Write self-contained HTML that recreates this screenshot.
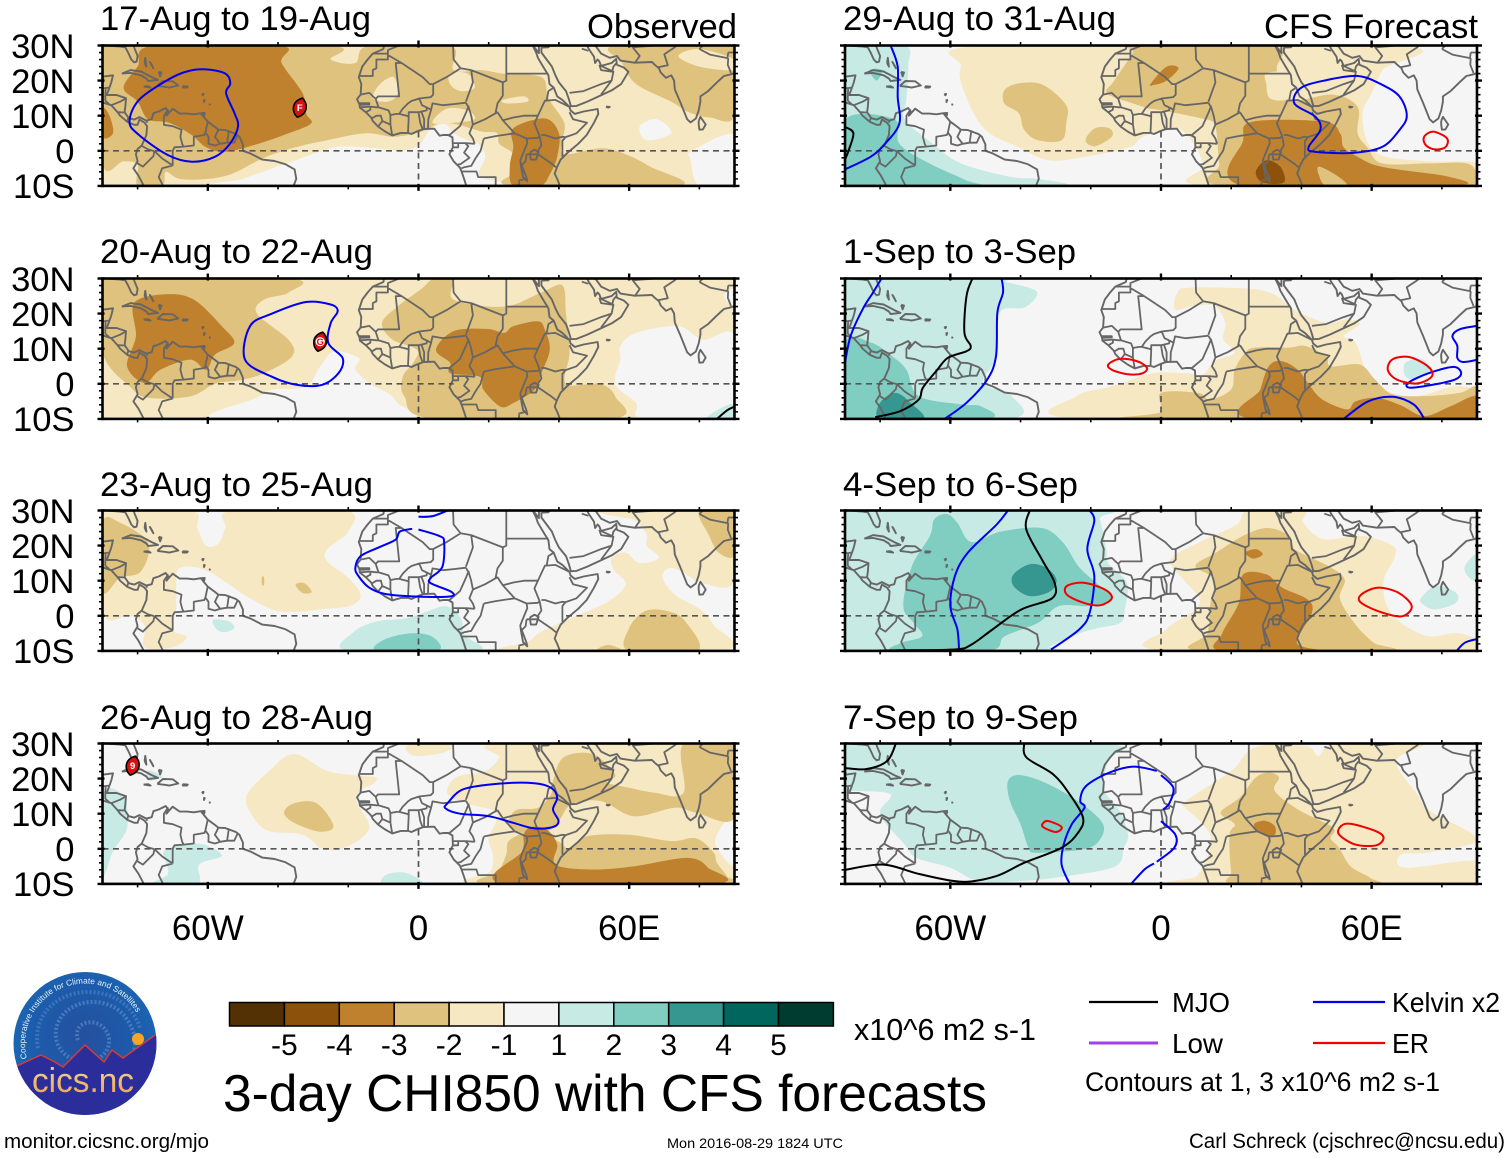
<!DOCTYPE html>
<html lang="en">
<head>
<meta charset="utf-8">
<title>3-day CHI850 with CFS forecasts</title>
<style>
html,body{margin:0;padding:0;background:#fff;}
svg{display:block;font-family:"Liberation Sans",sans-serif;}
</style>
</head>
<body>
<svg id="chart" xmlns="http://www.w3.org/2000/svg" width="1510" height="1158" viewBox="0 0 1510 1158">
  <defs>
    <radialGradient id="logoSky" cx="50%" cy="45%" r="60%">
      <stop offset="0" stop-color="#264f9f"/><stop offset="0.6" stop-color="#1c5cab"/><stop offset="1" stop-color="#1a6cb8"/>
    </radialGradient>
    <linearGradient id="logoText" x1="0" y1="0" x2="0" y2="1">
      <stop offset="0" stop-color="#f7d9a0"/><stop offset="1" stop-color="#eb9f45"/>
    </linearGradient>
    <clipPath id="logoClip"><ellipse cx="85" cy="1043.5" rx="71.5" ry="71.5"/></clipPath>
    <path id="logoArc" d="M27 1058.5 A60 60 0 1 1 145 1040"/>
  </defs>
  <rect x="0" y="0" width="1510" height="1158" fill="#ffffff"/>
  <g id="panels"></g>

  <g font-size="34.4" fill="#000">
    <text x="100" y="30" textLength="271" lengthAdjust="spacingAndGlyphs">17-Aug to 19-Aug</text>
    <text x="100" y="263" textLength="273" lengthAdjust="spacingAndGlyphs">20-Aug to 22-Aug</text>
    <text x="100" y="496" textLength="273" lengthAdjust="spacingAndGlyphs">23-Aug to 25-Aug</text>
    <text x="100" y="729" textLength="273" lengthAdjust="spacingAndGlyphs">26-Aug to 28-Aug</text>
    <text x="843" y="30" textLength="273" lengthAdjust="spacingAndGlyphs">29-Aug to 31-Aug</text>
    <text x="843" y="263" textLength="233" lengthAdjust="spacingAndGlyphs">1-Sep to 3-Sep</text>
    <text x="843" y="496" textLength="235" lengthAdjust="spacingAndGlyphs">4-Sep to 6-Sep</text>
    <text x="843" y="729" textLength="235" lengthAdjust="spacingAndGlyphs">7-Sep to 9-Sep</text>
    <text x="587" y="38" textLength="150" lengthAdjust="spacingAndGlyphs">Observed</text>
    <text x="1264" y="38" textLength="214" lengthAdjust="spacingAndGlyphs">CFS Forecast</text>
  </g>

  <g id="colorbar"></g>
  <text x="854" y="1040" font-size="31" textLength="182" lengthAdjust="spacingAndGlyphs">x10^6 m2 s-1</text>
  <text x="223" y="1111" font-size="51.5" textLength="764" lengthAdjust="spacingAndGlyphs">3-day CHI850 with CFS forecasts</text>

  <g font-size="28">
    <line x1="1089" y1="1002" x2="1158" y2="1002" stroke="#000" stroke-width="2.2"/>
    <text x="1172" y="1012" textLength="58" lengthAdjust="spacingAndGlyphs">MJO</text>
    <line x1="1313" y1="1002" x2="1385" y2="1002" stroke="#0000f0" stroke-width="2.2"/>
    <text x="1392" y="1012" textLength="108" lengthAdjust="spacingAndGlyphs">Kelvin x2</text>
    <line x1="1089" y1="1043" x2="1158" y2="1043" stroke="#a040f0" stroke-width="3"/>
    <text x="1172" y="1053" textLength="51" lengthAdjust="spacingAndGlyphs">Low</text>
    <line x1="1313" y1="1043" x2="1385" y2="1043" stroke="#f00000" stroke-width="2.2"/>
    <text x="1392" y="1053" textLength="37" lengthAdjust="spacingAndGlyphs">ER</text>
    <text x="1085" y="1091" font-size="27" textLength="355" lengthAdjust="spacingAndGlyphs">Contours at 1, 3 x10^6 m2 s-1</text>
  </g>

  <g>
    <ellipse cx="85" cy="1043.5" rx="71.5" ry="71.5" fill="url(#logoSky)"/>
    <g clip-path="url(#logoClip)">
      <path d="M78 1040 C72 1024 92 1016 104 1028 C116 1042 106 1062 84 1062 C58 1060 48 1034 62 1016 C78 996 112 998 126 1018 C136 1032 136 1044 134 1052" fill="none" stroke="#7fb2e0" stroke-width="4" stroke-dasharray="2 2" opacity="0.4"/>
      <path d="M38 1048 C32 1014 58 992 88 992 C116 992 134 1008 140 1028" fill="none" stroke="#7fb2e0" stroke-width="4" stroke-dasharray="2 2" opacity="0.3"/>
      <circle cx="138" cy="1039" r="6" fill="#f5a623"/>
      <path d="M13 1068 L19 1065 L41 1055 L55 1062 L63 1067 L85 1045 L104 1062 L112 1050 L123 1058 L158 1033 L158 1118 L13 1118 Z" fill="#2b2e9a" stroke="#e03a30" stroke-width="1.4"/>
    </g>
    <text font-size="8.3" fill="#e8f0fa"><textPath href="#logoArc">Cooperative Institute for Climate and Satellites</textPath></text>
    <text x="32" y="1092" font-size="34" fill="url(#logoText)" textLength="102" lengthAdjust="spacingAndGlyphs">cics.nc</text>
  </g>

  <text x="4" y="1148" font-size="20.7" textLength="205" lengthAdjust="spacingAndGlyphs">monitor.cicsnc.org/mjo</text>
  <text x="667" y="1148" font-size="14" textLength="176" lengthAdjust="spacingAndGlyphs">Mon 2016-08-29 1824 UTC</text>
  <text x="1189" y="1148" font-size="21" textLength="316" lengthAdjust="spacingAndGlyphs">Carl Schreck (cjschrec@ncsu.edu)</text>
</svg>

<script>
// ---- axis tick data ----
const lonMajor = [-60, 0, 60];
const lonMajorLabels = ['60W', '0', '60E'];
const lonMinor = [-80, -40, -20, 20, 40, 80];
const latMajor = [30, 20, 10, 0, -10];
const latLabels = ['30N', '20N', '10N', '0', '10S'];
const latMinor = [28, 26, 24, 22, 18, 16, 14, 12, 8, 6, 4, 2, -2, -4, -6, -8];

// ---- colour bar data ----
const cbarLevels = [-5, -4, -3, -2, -1, 0, 1, 2, 3, 4, 5];
const cbarLabels = ['-5', '-4', '-3', '-2', '-1', '1', '2', '3', '4', '5'];

// ---- whole-domain outline ----
const FULL = [-90, 30, 90, 30, 90, -10, -90, -10];

// ---- base map, lon/lat pairs ----
const mapCoast = [
  [-91,30,-89,30,-85,29.7,-83.5,29.5,-82.7,28,-81.8,26,-81,25.2,-80.3,25.4,-80,27,-81,29.5,-81.4,31],
  [-91,18.7,-90.5,20,-90,21.1,-87,21.5,-87.5,19.5,-88.2,17.5,-88.8,15.9,-86,15.9,-83.3,15,-83.5,12.5,-83.7,11,-82.5,9.3,-81,8.9,-79.5,9.6,-77.5,8.6,-76,9,-75.5,10.7,-74,11.2,-72,12.2,-71.3,11.2,-71.8,10,-71,10.9,-70,12,-68,10.6,-66,10.6,-64,10.4,-62,10.7,-61,9.5,-60,8.3,-58,6.8,-57,6,-55,5.9,-52,4.8,-51,4,-50,1.8,-50,0,-48,-0.7,-44.5,-2.5,-41,-2.9,-38,-3.8,-35.3,-5.3,-34.8,-8,-35.8,-10.5],
  [-92,14.5,-90,13.8,-87.5,13,-85.7,11,-85,10,-83,8.3,-81,7.4,-80,7.4,-79.5,8.9,-78,8,-77.3,7,-77.5,4.5,-78.8,1.5,-80,0.5,-80.5,-1,-80,-3,-81.2,-5,-79.8,-7,-78.5,-9.5,-78,-10.5],
  [-84.5,22,-82,23,-79,22.6,-76,21,-74.2,20.2,-77,19.9,-77.5,20.6,-79,21.5,-82,22.2,-84.5,22],
  [-74.4,18.5,-72.8,19.9,-70,19.8,-68.4,18.6,-71,18,-72,18.2,-74.4,18.5],
  [-78.3,18.3,-76.3,18,-77,18.4,-78.3,18.3],
  [-67.2,18.4,-65.7,18.3,-66,18,-67.1,18,-67.2,18.4],
  [-78,25,-77.5,24,-77.8,26.5,-78,25],[-76,24.5,-75.5,23.5,-76.5,25.3,-76,24.5],[-74,22.5,-73.2,22.3,-73.6,21.2,-74,22.5],
  [-61.7,16.2,-61.2,16.2,-61.4,15.8,-61.7,16.2],[-61.1,14.7,-60.9,14.4,-61.1,13.9,-61.1,14.7],[-59.7,13.2,-59.4,13.2,-59.5,13],
  [-61.9,10.7,-60.9,10.8,-61,10.1,-61.9,10.7],
  // Africa
  [-9.2,32,-9.8,30,-10,29,-13,27.7,-14.5,26,-16,24,-17,21,-16.3,19,-16.5,16,-17.5,14.7,-16.8,13.2,-16.7,12.3,-15,11,-13.5,9.5,-13,8.5,-11.5,6.9,-9.5,5.5,-7.5,4.4,-5,5.1,-3,5.1,-2,4.8,0,5.7,1.5,6.2,4.5,6.3,6,4.3,7,4.5,8.5,4.5,9.7,3.8,9.8,1,9.3,0,8.8,-1,10,-3,11.8,-4.8,12.3,-6,13,-8,13.8,-10.5],
  [32.5,31,32.5,30,33.5,28,34,26.5,35.5,24,37,21.5,37.3,19,38.5,18,39.5,15.5,41,14.5,43,12.5,43.3,11.5,44.5,10.5,47,11.2,51,11.9,51.2,10.5,50,8,47.9,4.5,45.5,2,42.5,-0.5,40.5,-2.5,39.5,-4.5,38.8,-6.5,39.5,-8,40.5,-10.5],
  // Arabia
  [34.3,31,34.3,27.8,33,29.5],[35,29.5,35,28,36.5,26,38,24,39,21.5,40,19.5,42,17,42.8,14.8,43.4,12.7,45,12.8,48,14,52,15.8,55,17.2,57.7,19,59.8,22.5,58.5,23.7,56.5,24.5,56.3,26.2,55,25,52,24.2,51.5,25.5,51,26,50.3,25,50,26.8,48.5,29,48,30,48.8,30.3,50.5,29.8,52,27.7,54.5,26.5,56.5,27,57.5,25.7,61.5,25.1,66.5,25.3,67.3,24.5,68.5,23.5,69,22.3,70.5,20.8,72,21.5,72.8,20,73,17.5,74.5,14,75.5,11.5,76.5,9,77.5,8.1,79,9.2,79.8,11.5,80.3,14,80.3,15.5,82.5,17,85,19.5,87,21.3,89,21.8,91,22.5],
  [79.8,8.5,80.3,9.7,81.8,7.5,81,6.1,80,6,79.8,7.5,79.8,8.5],
  [53.4,12.6,54.5,12.5,54,12.3,53.4,12.6],
  [31.7,-0.5,33,0.3,34.2,-0.3,33.5,-2.5,32,-2.5,31.7,-0.5],
  [29.2,-3.5,30.7,-7.5,31,-8.7,29.8,-7.5,29.3,-5,29.2,-3.5]
];
const mapBorders = [
  [-90,17.8,-89.1,17.9,-89.2,15.9],[-88.2,18,-89.1,17.9],[-89.2,15.9,-89.2,14.3,-88,13.2],[-87.5,13,-85,14,-83.2,15],[-85.7,11,-83.7,10.9],[-83,8.3,-82.6,9.6],[-77.3,8,-77.5,8.6],
  [-71.3,11.8,-72.5,10,-72.5,7.4,-70,7,-67.5,6,-67.8,4,-67.3,2,-66.9,1.2],[-78.8,1.4,-77,0.4,-75.2,-0.1],[-75.2,-0.1,-73,-2.2,-70,-4.2],[-70,-4.2,-70,0,-69.5,1,-66.9,1.2],[-80.3,-3.4,-78.5,-4.5,-75.5,-1.5,-75.2,-0.1],[-70,-4.2,-73,-5,-74,-7.5,-73,-9.5,-72.5,-10.5],[-66.9,1.2,-64,1.5,-64,4,-61,4.5,-60.7,5.2],[-60.7,5.2,-60,8.4],[-60.7,5.2,-59.8,4,-59.8,2,-58,1.5,-56.5,2],[-57,6,-58,4,-56.5,2],[-54,5.8,-54.5,2.3],[-56.5,2,-54.5,2.3],[-54.5,2.3,-52.5,2.3,-51.6,4.2],
  [-13,27.7,-8.7,27.7],[-8.7,27.7,-8.7,26,-12,26,-12,23.5,-13,23,-13,21.3,-17,21.3],[-8.7,27.7,-8.7,28.7,-5.5,30,-3,31],[-8.7,27.3,-4.8,25,-6.5,25,-5.5,15.5,-11.5,15.5,-12.2,14.8],[-16.5,16,-14,16.5,-12.2,14.8],[-4.8,25,1.2,21,3.2,19,4.2,19,4.2,16,3.5,15.3,0.2,14.9,-2,14.2,-3,13.5,-4.5,12,-5.5,10.5],[-12.2,14.8,-11.4,12.4,-8.5,11.5,-8,10.2,-6.2,10.5,-5.5,10.5],[-16.7,12.4,-13.7,12.6,-12,12.4,-11.4,12.4],[-13.7,12.6,-13.7,11.7,-15,11],[-16.8,13.6,-14,13.6,-14,13.2,-16.8,13.1],[-13.3,9.2,-12,10,-10.7,10,-10.3,8.5],[-11.5,6.9,-10.3,8.5],[-10.3,8.5,-8.5,7.7,-8,7.5,-7.5,4.4],[-8,7.5,-8,10.2],[-5.5,10.5,-3,9.9,-2.8,9.5,-3,5.1],[-2.8,9.5,-2.8,11,0,11],[0,11,0.5,8,1.2,6.1],[0.9,11,1.6,9,1.6,6.2],[0,11,2.3,11.5,2.4,12.3,1,13,0.2,14.9],[2.4,12.3,3.6,11.7,2.8,9,2.7,6.3],[3.6,11.7,4,13.5,7,13,10,13.3,13.5,13.7],[13.5,13.7,14.2,12.5,13.5,10.8,11.8,7,8.8,4.5],
  [4.2,19,8,21,12,23.5],[12,23.5,15,23],[15,23,15.5,19.5,13.5,14],[15,23,24,19.5],[14.2,12.8,15,10,15.5,7.5],[15.5,7.5,19,9,22.5,11],[24,19.5,24,15.7,22.5,13.5,22,11,22.5,11],[22.5,11,24,8.7,27.4,5],[15.5,7.5,14.5,5,15.5,3.5,16,2],[16,2,13.5,2.2,9.8,2.2],[9.8,1,11.3,1,11.3,2.2],[13.3,2.2,14.2,1.3,13,-0.5,14.5,-2,12,-3.8,11.2,-3.9],[12.2,-5,13,-4.7,15,-4.3,16.2,-2.2,17.7,0,18.6,3.5],[18.6,3.5,22,4.2,27.4,5],[12.3,-5.9,16.5,-5.9,17,-7.5,22,-7.5,22,-10.5],[27.4,5,30.8,3.5,31,2.2,29.6,-1.2,29,-2.7,29.2,-4.5],[34.5,4.2,35,1.5,34,0,33.9,-1],[30.8,3.5,34,3.7,34.5,4.2],[34,-1,37.7,-3.5,39.2,-4.7],[30.8,-1,33.9,-1],[30.8,-1,30.5,-3,29.5,-4],[35,4.5,36,4.5,39,3.5,41,4,41.9,3.9],[41.9,3.9,41,2.8,41,-1.7],[41.9,3.9,45,5,48,8,44,9,43,11],[43,12.5,39,14.5,36.5,14.3,37,17,38.5,18],[34.5,4.2,33,7.8,34,10,36,14.3,36.5,14.3],[24,8.7,27,9.5,30,10,33,10,34,10],[25,22,37,22],[25,31,25,20,24,19.5],[9.8,31,10,26,12,23.5],[28.5,-8.5,30.5,-8],[28.7,-8.5,28.5,-10.5],
  [43,16.5,47,17,52,19,55,20,52,16],[55,20,55.5,22.5,52,23,51.5,24.5],[35,29.4,37,29.5,38,30.5,39,32],[46.5,29.1,48.4,28.5],[51.5,24.4,55.2,22.7,55.5,24,56.3,24.9],[61.6,25,63,27,61,29.5,60.5,31],[68.2,23.8,71,24.4,70,27.5,73,29.5,74.5,31],[61,29.5,66.3,29.9,70,30.5],[80,29,83,27.4,88,26.4,88.2,28],[88.2,26.4,88.1,24.5,89,22.2],[90,26,89.8,25.3,92,25],[78,31,81,30,80,29],[88.2,28,91,28]
];

// ---- panel 1: 17-Aug to 19-Aug ----
const shades1 = [
  [-1, FULL],
  [0, [-55,-10,-50,-8,-43,-5.5,-35,-2.7,-24,1,-16,1,-5,0.2,0,1.5,3.4,6,7.5,7.6,10,5,14,3,17,2,19,-1.7,17,-6.5,19,-8,22,-10]],
  [0, [78,0,90,4.5,90,-10,80,-10,77.5,-2.7]],
  [0, [63,7,68,9,72,5,65,3]],
  [-2, [-90,30,-26,30,-25,26,-18,25,-14,30,9,30,10,23,18,23,24,22,35,21,37,15,41.5,8,41,3,41.5,-1,52,0.7,59,-1,66,-4.5,74,-10,27,-10,27,-6,27,-1,23,2,22.4,5,18,5.5,11,7.5,6,7.8,1,5.5,-7,4,-15,5,-26,3,-35,1,-44,-2,-53,-6.5,-60,-8,-68,-8,-72,-6,-73,-10,-80,-10,-80,-4,-84,-3,-90,-3.5]],
  [-2, [56,30,58,25,62,19,72,14,77,11,83,9.5,90,10,90,30]],
  [-1, [74,27,80,29,90,26,90,23,80,24]],
  [-1, [-13,15,-11,19,-7,21,-6,16,-9,14]],
  [-1, [4,8,8,12,14,11.5,16,9,10,8]],
  [-1, [24,14.5,30,15.5,31,14,25,13.5]],
  [-1, [9,22,14,22,16,18,12,17,9,19]],
  [-3, [-75.5,30,-39.5,30,-39,25,-33,16.4,-32,10.7,-30.6,7.8,-37,5,-45.6,2,-55,-0.3,-60.5,1,-64.6,4.5,-71,8,-77,9,-80,14,-84,18,-80,24]],
  [-3, [-90,12,-88,10,-87,5,-90,4]],
  [-3, [27,6.4,36,9.2,40,5,39.5,-1.7,37.5,-6.5,34.7,-10,27,-10,26,-4.5,27,1]]
];
const contours1 = [
  ['kelvin', 1, [-60.5,23.2,-55,22,-53.6,19.2,-54.8,16.4,-52.4,10.7,-51.4,6.9,-53.7,2,-58,-1.7,-64.6,-3.1,-71.4,-1.2,-79.6,4.5,-82.3,8.3,-79.6,14.5,-71.4,20.2,-66,22.6]]
];
const storms1 = [['F', -33.8, 12.3]];

// ---- panel 2: 20-Aug to 22-Aug ----
const shades2 = [
  [-1, FULL],
  [0, [-58,-10,-46,-4,-41.7,-1.7,-32,-0.8,-28,5,-24,9.2,-17,7.3,-18,4,-13.3,-0.3,-8.6,-2.7,-6,-5.5,-4,-10]],
  [0, [57.5,10.7,62,14.5,74,16.4,81,12.6,90,13.5,90,-10,64,-10,62,-5.5,56,0,57.5,7]],
  [0, [87,25,90,27,90,22]],
  [0, [6.5,24,8,25.5,9,23,7,22.5]],
  [1, [82,-10,87,-6.5,90,-6,90,-10]],
  [-2, [-90,30,-37,30,-37,26,-44,24,-46,20,-37,12.5,-36,7.8,-44,3,-51,1,-58,0,-65,-3.6,-77,-4,-82,-1,-90,9]],
  [-3, [-81,23,-72,25.5,-64,24,-56,16.4,-52.5,11.6,-58,8.3,-60.5,4,-65,6.9,-73.5,4,-78,0.2,-83,5,-80.5,13.5]],
  [-2, [-10.4,17.3,-6,22,0.8,27,4.4,30,10,30,10,24,24.4,22,35,26,41,28,42,20,43,8.8,42,0,51.6,0,56,-3.6,55,-10,4.4,-10,-4,-3.6,-4.5,2,-1.5,6,-0.4,9.7,-7.4,12.6]],
  [-3, [5,9.7,10,15,19.7,15.6,24.4,14.5,27,16.4,34,17.8,36,15.4,37.4,9.7,35,3,33,-1.7,27,-5.5,23.3,-6.5,18.5,-1.7,17.4,2,9,3,9,6]]
];
const contours2 = [
  ['kelvin', 1, [-32,23.3,-25,22.6,-23,20.7,-25,17.3,-25.7,11.6,-21.6,7.3,-22.8,3,-27.5,-0.3,-34.6,-0.3,-41.7,2,-49.4,6.9,-48,16.4,-41.7,20]],
  ['mjo', 0, [85,-10,88,-7.5,90,-6.5]]
];
const storms2 = [['G', -28, 12]];

// ---- panel 3: 23-Aug to 25-Aug ----
const shades3 = [
  [-1, [-90,30,-65,30,-63,25,-60.5,20,-57,20.5,-55,25,-53,30,-21,30,-20,24,-26,19,-26,15.5,-20,10.8,-16.5,6,-19,3,-26,2,-39,1.2,-48,5,-60,12.7,-68,13.6,-69,8,-69,2,-70,-4,-66,-6,-70,-9,-78,-9,-78,-3,-82,0,-90,1]],
  [-1, [53,30,90,30,90,9.8,81,9.3,75,12.6,71.4,13.6,69.5,11,73,6,80,2,84,-2.6,86,-10,26,-10,31.5,-7.3,35,-4.5,45,0,54,4,59,9,55.7,13,55,16.5,59,18,63,15,68.5,16.5,65,20,65,23,62,27,58,28,53,29]],
  [-2, [60,-10,60,-3.5,64.7,1.4,71.4,1.2,76,-1.6,79.4,-10]],
  [-2, [80,30,82.7,23,85.5,18,90,17.4,90,30]],
  [-2, [50.7,-10,54,-8.3,58,-10]],
  [-2, [-35,8.9,-32.5,9.3,-30.4,6.8,-33,6.5]],
  [-2, [-44.6,11,-44,11,-44,8.8,-44.6,8.8]],
  [-2, [-90,26.5,-85,26.5,-77,20.8,-79,12.7,-85,10.8,-90,7]],
  [1, [-20,-10,-18.3,-4.5,-11.8,-1.6,-3.5,-0.7,2.4,1.2,8,2.7,12,-0.7,13,-5.4,16.5,-10]],
  [2, [-11.8,-10,-10,-6.9,-2.4,-5,4,-6,5.3,-10]],
  [1, [-58.4,-1.1,-54,-1.6,-52.5,-3.5,-55.4,-4.7,-57.8,-3.5]]
];
const contours3 = [
  ['kelvin', 0, [0,28.2,4,28.4,8.3,30]],
  ['kelvin', 0, [-1.8,24.8,-5.3,24,-6.5,21.7,-10.6,19.8,-16.5,17,-18,13.6,-17,11.2,-14,8,-9.4,6.2,-1,5.5,8.8,5.5,9.4,6.8,3.5,9.3,3.5,10.8,6.8,14,7.3,21,6,22.7,0,24.6]]
];
const storms3 = [];

// ---- panel 4: 26-Aug to 28-Aug ----
const shades4 = [
  [-1, [-49,15,-42.5,22.2,-35.4,27,-26,22.2,-16.5,20.8,-12,20.3,-13,18.4,-16,17,-17.7,13.6,-14,6,-20,0.8,-27,-0.2,-33,4,-42.5,5,-47,8.9]],
  [-2, [-38.3,10.3,-35.4,13,-29,13,-24.2,6.5,-28.3,4.9,-35.4,7.4]],
  [1, [-90,15.5,-84,15,-83,6,-87,-0.7,-89,-6.4,-90,-6.4]],
  [1, [-72.5,-0.7,-67.5,1.2,-61,1.2,-56,-2,-62.5,-4.5,-63,-10,-75.5,-10,-71.4,-7.3,-72,-3.5]],
  [1, [-77,22.3,-73,20.5,-77,19.5]],
  [1, [-10,-10,-9,-7.3,-3.5,-6.9,1.2,-10]],
  [-1, [-3,29.5,9.4,29.5,7,27.4,-1.2,26.5]],
  [-1, [23.6,30,23,26,19,22.2,10.6,20.3,8.3,15.5,14.7,12.7,22.4,10,20,3,21.2,-1.6,20.6,-6.4,17,-10,90,-10,90,30]],
  [0, [85,4,88.4,8.9,90,8.9,90,-4.5,85,0.3]],
  [-2, [26,8.9,28.3,11.2,34,11.7,37.7,15.5,38.3,19.3,41.3,26,49.5,27,56,21.2,53.7,18.9,60,17.4,67.2,16,75.5,16,75.5,30,90,30,90,8.9,79,10.3,73,11.7,61.3,9.3,52,13.6,43.6,12.7,40,8,36,4.5,30,4.5,26,6]],
  [-2, [21,-10,23,-6.4,25,-1.6,26,2.5,33,5,40,2,43,0,48,3.6,60,4,72,2.2,79,3,84,-1,85,-4,88,-8,88.5,-10]],
  [-3, [30,4,32,6.2,36.5,5.5,39.5,1.2,39,-4.5,49.5,-5.9,61.3,-5,76.6,-2.6,82.5,-5.4,84,-10,24.2,-10,29.5,-0.7]]
];
const contours4 = [
  ['kelvin', 1, [8.3,13,12.9,17,23.6,18.6,33,18.7,37.7,17.4,39.5,14.6,38.3,11.2,39.9,7.9,38.3,6.2,33,5.8,27,7.4,20,9.3,11.8,10,7.7,11.5]]
];
const storms4 = [['9', -81.4, 23.7]];

// ---- panel 5: 29-Aug to 31-Aug ----
const shades5 = [
  [1, [-90,30,-73,30,-72,24,-72.5,14.5,-73,9,-65,2,-57,-3.6,-43,-7.4,-35,-8,-30,-10,-90,-10]],
  [2, [-90,8.8,-76,9,-74.5,2,-66,-3.6,-55.5,-8.4,-53.5,-10,-90,-10]],
  [2, [-83,23,-79.5,23,-81,20]],
  [-1, [-57,24,-49,30,67,30,63,23,60,16.4,57.4,10.7,59,2,64,-1.7,76.5,-3,90,-3.6,90,-10,13,-10,12,-4.5,10,1,4.4,6.4,-5,4,-9,1,-21.5,-1.7,-32,-2.7,-40.5,1,-50,6,-55.5,15.4]],
  [-2, [-44.6,17.3,-40.5,19.2,-33.7,18.8,-27,13,-27,8,-28.3,3,-35,3,-39,6,-40.5,10.7,-44.6,13.4]],
  [-2, [-21.5,3,-18.8,6.4,-14.7,6.4,-14,4,-18.8,1.3]],
  [-2, [-8,30,31.5,30,33,23,36,14.5,49,16,56,12.5,56,5,59,0.7,63,-3.6,76.5,-3.6,87,-3.6,90,-6.5,90,-10,18.6,-10,16.6,-3.6,15,7.8,8,9,0,11,-8,13.5,-15.4,16.4,-13.3,20,-8,28]],
  [-1, [30,22,36,22,36,15,31,15,30,19]],
  [-1, [-4,12,8,10,15,8,3,8,-2,9]],
  [-3, [26,8.3,46.5,8.3,51,5,52,1,56,-1.7,63,-4.6,82,-7.4,82.6,-10,23.4,-10,23.4,3]],
  [-2, [45,-4.5,50,-7,53,-10,47,-10,45,-7]],
  [-4, [27,-6,30,-2.7,34,-4.6,35,-9,29,-9]],
  [-3, [-3,19,1.6,24,5,23.5,1.6,20,-1.8,18.8]]
];
const contours5 = [
  ['kelvin', 0, [-77,30,-75,24,-75,15.4,-74.5,7.8,-78.6,2,-82.7,-1.7,-90,-5.3]],
  ['kelvin', 1, [56,21.3,63,18.8,68,15.4,70,10,68,6,63,1.1,54.7,-0.6,44,-0.3,42,1,45.4,6,44,9.7,38,13.5,39.7,17.8,46.5,20]],
  ['mjo', 0, [-90,6.8,-87.6,5,-89,0,-90,-2.5]],
  ['er', 1, [78,5.4,81.5,3.5,81,1,78,0.4,75.5,1.5,74.8,3.5,76,5]]
];
const storms5 = [];

// ---- panel 6: 1-Sep to 3-Sep ----
const shades6 = [
  [1, [-90,30,-46.6,30,-44,29,-36.5,27,-35.4,25,-39,21.7,-46,20.3,-46.6,7.9,-50.7,0.3,-42.5,-3.5,-43,-10,-90,-10]],
  [2, [-90,11.7,-82.5,11.7,-76.6,7.9,-72.5,4,-69,-3.5,-56.6,-5.9,-51.3,-6.4,-50,-10,-90,-10]],
  [3, [-80,-5.4,-75.5,-2.6,-70.8,-5.9,-67.8,-10,-80,-10]],
  [1, [69.6,6,74.3,7,76.6,4,73,1.2,69.6,2.2]],
  [-1, [4.7,26,8.3,27.4,26,27,33,25,37.7,21.2,47,17.4,53,18.4,56.6,17,52,13.6,55.4,11.7,57.8,5,59,0.3,62.5,-2,73,-3.5,83.7,-0.7,90,-2.5,90,-10,-23,-10,-24,-3.5,-14,-0.7,-2.4,3,7,3,12,2.7,15.3,6.5,21,8.9,17.7,12.7,18.3,17.4,15.3,22.2,9.4,22.2,4,21.2]],
  [-2, [0,-2.6,10.6,-2.6,14,-4.5,20,-1.6,21,4,24,8.9,27,10.3,36.5,10.3,41,10.8,47,7.9,48.3,5,56.6,5.5,61,1.2,66,-3,75,-3.5,85,-2.6,90,-1,90,-10,-6,-10,0,-8]],
  [-3, [26,-10,28.3,-1.6,30.7,5,34.2,6.5,39,4,42.5,-0.7,46,-4.5,53,-7.3,55.4,-5,61.3,-4,68,-6,75,-9.2,82.5,-6.4,90,-3.5,90,-10]]
];
const contours6 = [
  ['kelvin', 0, [-79.6,30,-82,26,-85,21.2,-88.4,13.6,-90,6]],
  ['kelvin', 0, [-45.4,30,-45,26,-46.6,20.3,-47,7.9,-49.5,1.2,-55.4,-5.4,-61.6,-10]],
  ['kelvin', 0, [52,-10,59,-5,66,-3.7,72,-5.9,75,-10]],
  ['kelvin', 1, [83.7,4.8,85.5,3,83.7,1.2,77.8,-0.2,71.3,-1.1,70,-0.2,73,1.7,79,3.9]],
  ['kelvin', 0, [90,16.5,85,15.5,83,13.6,84.4,10.8,84.4,7.4,86,6.2,90,6.8]],
  ['mjo', 0, [-53.7,30,-55.4,25,-56,14.6,-54.2,10.8,-55.4,9.3,-60.7,7.4,-63.7,4,-67.8,-1.1,-69,-4.5,-74.3,-7.8,-81.4,-9.5]],
  ['er', 1, [70.8,7.6,76,5,77.2,2.2,73,0.1,67.2,1.2,64.6,4,66,7]],
  ['er', 1, [-11.8,7.1,-7,6.5,-4,4.6,-5.3,3,-9.4,2.7,-14,4,-15,5.5]]
];
const storms6 = [];

// ---- panel 7: 4-Sep to 6-Sep ----
const shades7 = [
  [1, [-90,30,-19,30,-17.4,27.5,-15.6,19,-15,15,-9.7,9.4,-10.3,1.8,-11.5,-2,-17.4,-3.4,-23.3,-5,-31.5,-8.7,-32,-10,-90,-10]],
  [2, [-64.6,27.5,-61,29,-58,26.5,-54,21,-45.7,24,-34,25,-28,21,-23.4,14,-17.4,8.5,-13.8,5,-19.7,2.8,-29,2.8,-35,-2,-44.5,-5.8,-49.2,-10,-75.7,-10,-74,-7.7,-68,-5.8,-70.5,-2,-73.4,2.8,-71,14,-65.8,22.8]],
  [3, [-37.4,14.7,-32.7,13.7,-29.8,10.4,-31.5,7,-37.4,5.6,-42,8.5,-42,11.8]],
  [1, [74,5,78.3,8.5,84,6.6,84,3.7,78.3,1.8,74.7,3.2]],
  [1, [86.5,14,90,17.5,90,10.4,87.7,10.9]],
  [-1, [2.7,16,11,21,21.6,26,25,30,40.5,30,40.5,26.6,46.4,21.8,57,22.8,65.9,20,66.5,16.6,63.5,10.4,64,3.7,67.7,-1.5,76,-5.8,84,-4.9,90,-6.8,90,-10,1.5,-10,1.5,-3.9,8.6,0.9,11,4.7,6.3,10.4]],
  [-2, [9.8,14.2,15.7,18,23.4,22.8,30,25,35.8,23.2,38,19,47.6,14.2,52.3,10.4,51,4.7,55.8,-3,60.6,-7.7,64,-10,11,-10,13.3,-4.9,14,2.8,15,10.4]],
  [-3, [23.4,11.8,30,11.8,34.6,8,41.7,4.7,43,0.9,38.7,-7.7,44.6,-10,16.9,-10,17.5,-4.9,22.2,3.7]],
  [-3, [24,18,27,19,29,17.5,26.3,16.3]]
];
const contours7 = [
  ['kelvin', 0, [-43.6,30,-46.8,26,-55,18,-58.7,11.3,-60,2.8,-58,-3.9,-57.5,-10]],
  ['kelvin', 0, [-20.3,30,-19,27,-21,19,-19,11.3,-20.3,0.9,-23.3,-3.9,-31.3,-9.6]],
  ['kelvin', 0, [84.2,-10,86.5,-7.7,90,-6.6]],
  ['mjo', 0, [-37.4,30,-38.4,24.7,-33.9,16,-30.3,9.4,-31,5,-39.8,1.8,-48,-3.9,-54,-8.2,-58.7,-9.6,-75,-9.8,-81,-10]],
  ['er', 1, [-22,9.4,-16,7.5,-14,5,-17.4,3,-22,3.7,-26.8,6,-26.8,8.5]],
  ['er', 1, [61.7,8,67.6,6.6,71.4,2.8,68.8,-0.1,63,0.9,57,3.7,57,6]]
];
const storms7 = [];

// ---- panel 8: 7-Sep to 9-Sep ----
const shades8 = [
  [1, [-90,30,-16.5,30,-15.3,25,-16.5,17.4,-11.8,10.8,-9.4,4,-10.6,0.3,-13,-5,-27,-7.8,-40,-9.2,-52,-9.2,-60,-5.4,-69.6,-2.6,-73,1.2,-80,9.8,-77,15.5,-87,16.5,-90,17]],
  [2, [-43.6,19.3,-40,21,-32,18.4,-22.4,12.7,-16.5,7,-17.7,2.2,-22.4,-0.2,-35.4,-1.1,-37.7,0.3,-40,7,-43,13.6]],
  [-1, [7,13.6,20,22.2,27,29,41.3,29.3,44.8,26.5,50,30,74.3,30,67,25,73,15.5,76.6,10.8,90,2.7,76.6,-1,68.4,-1.6,69.6,-5.4,90,-3.5,90,-10,7,-10,10,-8,12,-5,14,0,14,4,11,8,7,11.7]],
  [-2, [17,10.3,22.4,14.6,27,20.3,30.7,21.7,33.6,20.3,32.4,16.5,39,11.2,49,6,48.3,3,50.7,0.3,54,-5,59.6,-8.3,59.6,-10,21.8,-10,20,-6.4,19.5,4,21,7]],
  [-3, [26.5,7,29.5,8,32.4,6.5,32.4,4,30,3.6,27.7,5]]
];
const contours8 = [
  ['kelvin', 0, [-26,-10,-28.3,-4.5,-27.7,1.2,-25.4,7,-21.8,11.7,-23,13.6,-21.8,17.4,-17.7,20.3,-11.8,22.7,-7,23.4,-1.2,22.2]],
  ['kelvin', 0, [0,21,3.5,17.4,2.4,13,0.6,11.2]],
  ['kelvin', 0, [0,7.9,4.1,4,3.8,0.3,-1.2,-3.7]],
  ['kelvin', 0, [-2,-4.2,-4.7,-5.9,-8.5,-10]],
  ['mjo', 0, [-75.5,30,-78,25,-84,22.7,-90,23]],
  ['mjo', 0, [-39,30,-38.3,26,-30.7,21.2,-26,15.5,-22.2,8.9,-23.6,4.6,-28.3,0.3,-39,-4,-47,-7.8,-56.6,-9.4,-68.4,-7.3,-79,-4.5,-90,-6]],
  ['er', 1, [-32,7.9,-28.3,6.2,-30,4.8,-33.6,6.2,-33.5,7.4]],
  ['er', 1, [54.2,7.1,61.3,5,63.4,3.1,61.3,1,55.4,1.2,50.7,4.1,51.3,6.5]]
];
const storms8 = [];

// ---- styling & layout ----
const levelFill = {'-5':'#543005','-4':'#8c510a','-3':'#bf812d','-2':'#dfc27d','-1':'#f6e8c3','0':'#f5f5f5','1':'#c7eae5','2':'#80cdc1','3':'#35978f','4':'#01665e','5':'#003c30'};
const waveStroke = {mjo:'#000000', kelvin:'#0000f0', er:'#f00000', low:'#a040f0'};
const NS = 'http://www.w3.org/2000/svg';
const PX_PER_LON = 3.511, PX_PER_LAT = 3.51;

function xAxis(left){ return lon => left + (lon + 90) * PX_PER_LON; }
function yAxis(top){ return lat => top + (30 - lat) * PX_PER_LAT; }

function node(tag, parent){
  const el = document.createElementNS(NS, tag);
  parent.appendChild(el);
  return el;
}
function onEdge(a, b){
  return (a[0] <= -90 && b[0] <= -90) || (a[0] >= 90 && b[0] >= 90) || (a[1] >= 30 && b[1] >= 30) || (a[1] <= -10 && b[1] <= -10);
}
function pairs(flat){
  const out = [];
  for (let i = 0; i < flat.length; i += 2) out.push([flat[i], flat[i + 1]]);
  return out;
}
function smoothPath(flat, closed, X, Y){
  const g = pairs(flat), n = g.length;
  const P = g.map(p => [X(p[0]), Y(p[1])]);
  const at = i => closed ? P[(i + n) % n] : P[Math.max(0, Math.min(n - 1, i))];
  let d = 'M' + P[0][0].toFixed(1) + ' ' + P[0][1].toFixed(1);
  const last = closed ? n : n - 1;
  for (let i = 0; i < last; i++){
    const p0 = at(i - 1), p1 = at(i), p2 = at(i + 1), p3 = at(i + 2);
    if (onEdge(g[i], g[(i + 1) % n])){
      d += 'L' + p2[0].toFixed(1) + ' ' + p2[1].toFixed(1);
    } else {
      const c1x = p1[0] + (p2[0] - p0[0]) / 6, c1y = p1[1] + (p2[1] - p0[1]) / 6;
      const c2x = p2[0] - (p3[0] - p1[0]) / 6, c2y = p2[1] - (p3[1] - p1[1]) / 6;
      d += 'C' + c1x.toFixed(1) + ' ' + c1y.toFixed(1) + ' ' + c2x.toFixed(1) + ' ' + c2y.toFixed(1) + ' ' + p2[0].toFixed(1) + ' ' + p2[1].toFixed(1);
    }
  }
  return d + (closed ? 'Z' : '');
}
function linePath(lines, X, Y){
  let d = '';
  lines.forEach(line => {
    pairs(line).forEach((p, i) => {
      d += (i ? 'L' : 'M') + X(p[0]).toFixed(1) + ' ' + Y(p[1]).toFixed(1);
    });
  });
  return d;
}

function drawPanel(key, left, top, shades, contours, storms, showLat, showLon){
  const root = document.getElementById('panels');
  const X = xAxis(left), Y = yAxis(top);
  const W = X(90) - X(-90), H = Y(-10) - Y(30);

  const clip = node('clipPath', root);
  clip.setAttribute('id', 'clip-' + key);
  const clipRect = node('rect', clip);
  clipRect.setAttribute('x', X(-90));
  clipRect.setAttribute('y', Y(30));
  clipRect.setAttribute('width', W);
  clipRect.setAttribute('height', H);

  const g = node('g', root);
  
  

  const field = node('g', g);
  field.setAttribute('clip-path', 'url(#clip-' + key + ')');
  
  

  const bg = node('rect', field);
  
  
  bg.setAttribute('x', X(-90));
  bg.setAttribute('y', Y(30));
  bg.setAttribute('width', W);
  bg.setAttribute('height', H);
  bg.setAttribute('fill', levelFill['0']);

  shades.forEach(s => {
    const el = node('path', field);
    
    
    el.setAttribute('d', smoothPath(s[1], true, X, Y));
    el.setAttribute('fill', levelFill[String(s[0])]);
  });

  const coast = node('path', field);
  
  
  coast.setAttribute('d', linePath(mapCoast, X, Y));
  coast.setAttribute('fill', 'none');
  coast.setAttribute('stroke', '#666666');
  coast.setAttribute('stroke-width', '1.9');
  coast.setAttribute('stroke-linejoin', 'round');

  const borders = node('path', field);
  
  
  borders.setAttribute('d', linePath(mapBorders, X, Y));
  borders.setAttribute('fill', 'none');
  borders.setAttribute('stroke', '#666666');
  borders.setAttribute('stroke-width', '1.8');
  borders.setAttribute('stroke-linejoin', 'round');

  const eq = node('path', field);
  
  
  eq.setAttribute('d', linePath([[-90, 0, 10, 0], [42, 0, 90, 0]], X, Y));
  eq.setAttribute('fill', 'none');
  eq.setAttribute('stroke', '#555555');
  eq.setAttribute('stroke-width', '1.7');
  eq.setAttribute('stroke-dasharray', '6 4.5');

  const mer = node('path', field);
  
  
  mer.setAttribute('d', linePath([[0, 5.5, 0, -10]], X, Y));
  mer.setAttribute('fill', 'none');
  mer.setAttribute('stroke', '#555555');
  mer.setAttribute('stroke-width', '1.7');
  mer.setAttribute('stroke-dasharray', '6 4.5');

  contours.forEach(c => {
    const el = node('path', field);
    
    
    el.setAttribute('d', smoothPath(c[2], !!c[1], X, Y));
    el.setAttribute('fill', 'none');
    el.setAttribute('stroke', waveStroke[c[0]]);
    el.setAttribute('stroke-width', '2');
    el.setAttribute('stroke-linejoin', 'round');
  });

  storms.forEach(s => {
    const cx = X(s[1]), cy = Y(s[2]);
    const isWhiteEye = s[0] === 'G';
    const m = node('g', g);
    
    
    const body = node('path', m);
    
    
    body.setAttribute('d', 'M' + (cx + 2.5) + ' ' + (cy - 9.5) + 'C' + (cx - 9) + ' ' + (cy - 6) + ' ' + (cx - 8) + ' ' + (cy + 5) + ' ' + (cx - 2.5) + ' ' + (cy + 9.5) + 'C' + (cx + 9) + ' ' + (cy + 6) + ' ' + (cx + 8) + ' ' + (cy - 5) + ' ' + (cx + 2.5) + ' ' + (cy - 9.5) + 'Z');
    body.setAttribute('fill', '#d81010');
    body.setAttribute('stroke', '#000');
    body.setAttribute('stroke-width', '1.6');
    if (isWhiteEye){
      const eye = node('circle', m);
      
      
      eye.setAttribute('cx', cx);
      eye.setAttribute('cy', cy);
      eye.setAttribute('r', '4.6');
      eye.setAttribute('fill', '#ffffff');
    }
    const t = node('text', m);
    
    
    t.setAttribute('x', cx);
    t.setAttribute('y', cy + 3.5);
    t.setAttribute('text-anchor', 'middle');
    t.setAttribute('font-size', '9.5');
    t.setAttribute('font-weight', 'bold');
    t.setAttribute('fill', isWhiteEye ? '#d81010' : '#ffffff');
    t.textContent = s[0];
  });

  const frame = node('rect', g);
  
  
  frame.setAttribute('x', X(-90));
  frame.setAttribute('y', Y(30));
  frame.setAttribute('width', W);
  frame.setAttribute('height', H);
  frame.setAttribute('fill', 'none');
  frame.setAttribute('stroke', '#000');
  frame.setAttribute('stroke-width', '2.6');

  let major = '', minor = '';
  lonMajor.forEach(v => {
    major += 'M' + X(v) + ' ' + (Y(30) - 5) + 'V' + (Y(30) + 2) + 'M' + X(v) + ' ' + (Y(-10) - 2) + 'V' + (Y(-10) + 5);
  });
  lonMinor.forEach(v => {
    minor += 'M' + X(v) + ' ' + (Y(30) - 3.5) + 'V' + Y(30) + 'M' + X(v) + ' ' + Y(-10) + 'V' + (Y(-10) + 3.5);
  });
  latMajor.forEach(v => {
    major += 'M' + (X(-90) - 5) + ' ' + Y(v) + 'H' + (X(-90) + 2) + 'M' + (X(90) - 2) + ' ' + Y(v) + 'H' + (X(90) + 5);
  });
  latMinor.forEach(v => {
    minor += 'M' + (X(-90) - 3.5) + ' ' + Y(v) + 'H' + X(-90) + 'M' + X(90) + ' ' + Y(v) + 'H' + (X(90) + 3.5);
  });
  const tmaj = node('path', g);
  
  
  tmaj.setAttribute('d', major);
  tmaj.setAttribute('stroke', '#000');
  tmaj.setAttribute('stroke-width', '2.4');
  const tmin = node('path', g);
  
  
  tmin.setAttribute('d', minor);
  tmin.setAttribute('stroke', '#000');
  tmin.setAttribute('stroke-width', '1.6');

  if (showLat){
    latMajor.forEach((v, i) => {
      const t = node('text', g);
      
      
      t.setAttribute('x', 74.5);
      t.setAttribute('y', Y(v) + 12.3);
      t.setAttribute('text-anchor', 'end');
      t.setAttribute('font-size', '34.6');
      t.textContent = latLabels[i];
    });
  }
  if (showLon){
    lonMajor.forEach((v, i) => {
      const t = node('text', g);
      
      
      t.setAttribute('x', X(v));
      t.setAttribute('y', 940);
      t.setAttribute('text-anchor', 'middle');
      t.setAttribute('font-size', '35');
      t.textContent = lonMajorLabels[i];
    });
  }
}

const LEFT_COL = 102.5, RIGHT_COL = 845;
drawPanel('17-aug', LEFT_COL, 45.5, shades1, contours1, storms1, true, false);
drawPanel('20-aug', LEFT_COL, 278.5, shades2, contours2, storms2, true, false);
drawPanel('23-aug', LEFT_COL, 510.5, shades3, contours3, storms3, true, false);
drawPanel('26-aug', LEFT_COL, 743.5, shades4, contours4, storms4, true, true);
drawPanel('29-aug', RIGHT_COL, 45.5, shades5, contours5, storms5, false, false);
drawPanel('1-sep', RIGHT_COL, 278.5, shades6, contours6, storms6, false, false);
drawPanel('4-sep', RIGHT_COL, 510.5, shades7, contours7, storms7, false, false);
drawPanel('7-sep', RIGHT_COL, 743.5, shades8, contours8, storms8, false, true);

// colour bar
(function(){
  const bar = document.getElementById('colorbar');
  const x0 = 229.5, w = 54.9, y0 = 1002.5, h = 23.5;
  cbarLevels.forEach((lv, i) => {
    const r = node('rect', bar);
    
    
    r.setAttribute('x', x0 + i * w);
    r.setAttribute('y', y0);
    r.setAttribute('width', w);
    r.setAttribute('height', h);
    r.setAttribute('fill', levelFill[String(lv)]);
    r.setAttribute('stroke', '#000');
    r.setAttribute('stroke-width', '1.5');
  });
  cbarLabels.forEach((lab, i) => {
    const t = node('text', bar);
    
    
    t.setAttribute('x', x0 + (i + 1) * w);
    t.setAttribute('y', 1055);
    t.setAttribute('text-anchor', 'middle');
    t.setAttribute('font-size', '30');
    t.textContent = lab;
  });
})();
</script>
</body>
</html>
